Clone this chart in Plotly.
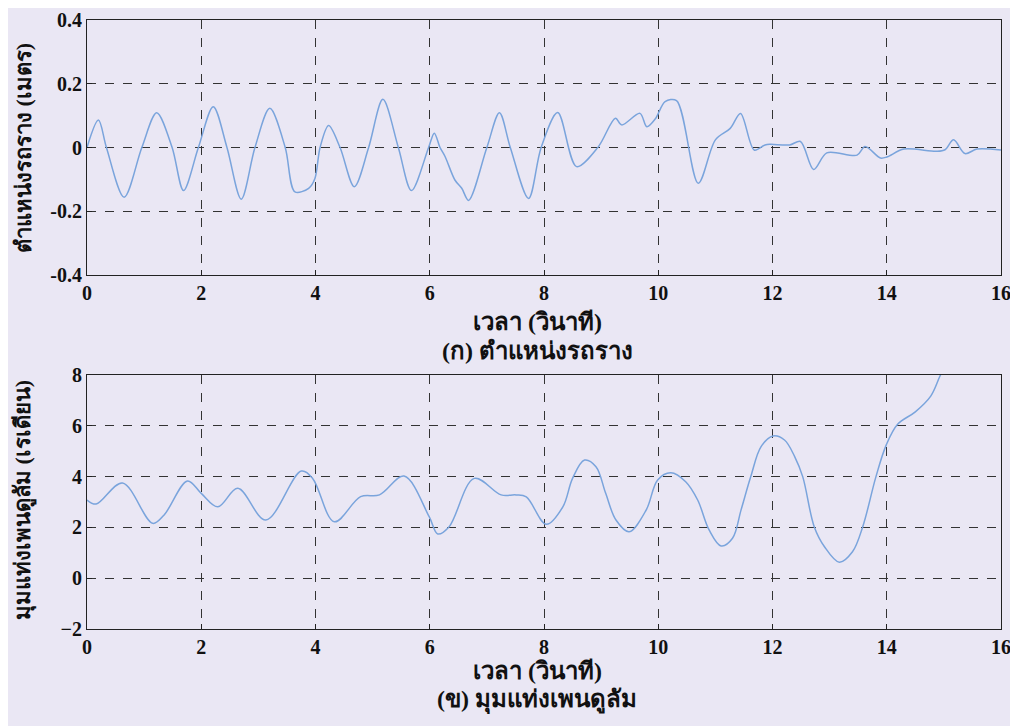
import plotly.graph_objects as go

# Cart position (m) vs time (s)
t_pos = [0.0, 0.2, 0.34, 0.65, 0.96, 1.22, 1.49, 1.69, 1.95, 2.21, 2.45, 2.70, 2.94, 3.20, 3.47,
         3.64, 3.88, 3.99, 4.08, 4.23, 4.43, 4.68, 4.93, 5.18, 5.45, 5.68, 5.98, 6.08, 6.18, 6.27,
         6.44, 6.56, 6.68, 7.0, 7.22, 7.41, 7.73, 7.95, 8.24, 8.57, 8.95, 9.25, 9.36, 9.68, 9.80,
         9.95, 10.12, 10.32, 10.70, 11.0, 11.26, 11.44, 11.68, 11.87, 11.96, 12.30, 12.49, 12.72,
         12.95, 13.48, 13.62, 13.89, 14.0, 14.3, 14.87, 15.02, 15.17, 15.37, 15.58, 16.0]
pos = [0.0, 0.086, 0.0, -0.156, 0.0, 0.109, 0.0, -0.135, 0.0, 0.128, 0.0, -0.162, 0.0, 0.123, 0.0,
       -0.139, -0.128, -0.097, 0.0, 0.069, 0.0, -0.123, 0.0, 0.151, 0.0, -0.135, 0.0, 0.045, 0.0, -0.029,
       -0.102, -0.128, -0.166, 0.0, 0.109, 0.0, -0.160, 0.0, 0.110, -0.060, 0.002, 0.092, 0.071, 0.107, 0.065,
       0.090, 0.144, 0.147, -0.112, 0.024, 0.060, 0.107, -0.008, 0.008, 0.010, 0.008, 0.019, -0.069,
       -0.017, -0.024, 0.003, -0.033, -0.030, -0.005, -0.012, -0.007, 0.024, -0.019, -0.005, -0.008]

# Pendulum angle (rad) vs time (s)
t_ang = [0.0, 0.16, 0.62, 1.15, 1.35, 1.76, 2.0, 2.29, 2.64, 3.13, 3.75, 3.95, 4.33, 4.79, 5.12,
         5.55, 5.99, 6.14, 6.34, 6.78, 7.25, 7.51, 7.69, 8.04, 8.33, 8.50, 8.71, 8.91, 9.08, 9.26,
         9.49, 9.79, 9.99, 10.22, 10.48, 10.69, 10.89, 11.10, 11.30, 11.45, 11.62, 11.80, 12.01,
         12.21, 12.39, 12.53, 12.73, 12.91, 13.17, 13.40, 13.58, 13.81, 13.99, 14.19, 14.50, 14.77,
         14.93, 15.05]
ang = [3.08, 2.92, 3.75, 2.16, 2.49, 3.83, 3.34, 2.81, 3.54, 2.29, 4.22, 3.93, 2.22, 3.21, 3.28,
       4.02, 2.42, 1.74, 2.03, 3.93, 3.28, 3.28, 3.20, 2.12, 2.81, 3.93, 4.65, 4.39, 3.34, 2.29,
       1.83, 2.69, 3.87, 4.15, 3.80, 3.08, 1.90, 1.27, 1.57, 2.69, 4.00, 5.18, 5.60,
       5.44, 4.78, 3.99, 2.03, 1.24, 0.63, 1.04, 2.03, 3.99, 5.24, 6.06, 6.55, 7.17,
       7.95, 8.5]

x_ticks = [0, 2, 4, 6, 8, 10, 12, 14, 16]
pos_ticks = [-0.4, -0.2, 0, 0.2, 0.4]
pos_tick_text = ["-0.4", "-0.2", "0", "0.2", "0.4"]
ang_ticks = [-2, 0, 2, 4, 6, 8]

xlabel = "เวลา (วินาที)"
title_a = "(ก) ตำแหน่งรถราง"
title_b = "(ข) มุมแท่งเพนดูลัม"
ylabel_a = "ตำแหน่งรถราง (เมตร)"
ylabel_b = "มุมแท่งเพนดูลัม (เรเดียน)"

BG = "#EAE7F4"
LINE = "#7AA4DC"
SERIF = "Times New Roman, Liberation Serif, DejaVu Serif, serif"
TICKFONT = dict(family=SERIF, size=20, color="#111111", weight="bold")
THAIFONT = dict(family=SERIF, size=24, color="#111111", weight="bold")
THAIFONT_Y = dict(family=SERIF, size=22, color="#111111", weight="bold")

# page is drawn with an 8px body margin: work in shifted pixel coordinates
OFF = 8
W, H = 1018 - OFF, 726 - OFF
L, R, T, B = 87 - OFF, W - (1001 - OFF), 20 - OFF, H - (629 - OFF)
PW, PH = W - L - R, H - T - B


def px_x(X):
    return (X - OFF - L) / PW


def px_y(Y):
    return (H - B - (Y - OFF)) / PH


fig = go.Figure()
fig.add_trace(go.Scatter(x=t_pos, y=pos, mode="lines", xaxis="x", yaxis="y",
                         line=dict(color=LINE, width=1.5, shape="spline", smoothing=0.9),
                         showlegend=False))
fig.add_trace(go.Scatter(x=t_ang, y=ang, mode="lines", xaxis="x2", yaxis="y2",
                         line=dict(color=LINE, width=1.5, shape="spline", smoothing=1.0),
                         showlegend=False))

axis_common = dict(showline=True, linecolor="#222222", linewidth=1.2, mirror=True,
                   showgrid=True, gridcolor="#333333", gridwidth=1, griddash="dash",
                   zeroline=False, ticks="inside", ticklen=5, tickcolor="#222222",
                   tickfont=TICKFONT)

fig.update_layout(
    width=W, height=H,
    margin=dict(l=L, r=R, t=T, b=B, autoexpand=False),
    paper_bgcolor=BG, plot_bgcolor=BG,
    xaxis=dict(domain=[0, 1], anchor="y", range=[0, 16], tickvals=x_ticks, **axis_common),
    yaxis=dict(domain=[px_y(275), 1], anchor="x", range=[-0.4, 0.4], tickvals=pos_ticks,
               ticktext=pos_tick_text, **axis_common),
    xaxis2=dict(domain=[0, 1], anchor="y2", range=[0, 16], tickvals=x_ticks, **axis_common),
    yaxis2=dict(domain=[0, px_y(375)], anchor="x2", range=[-2, 8], tickvals=ang_ticks, **axis_common),
)

annotations = []
for txt, xp, yp in [(xlabel, 537, 322), (title_a, 537, 351), (xlabel, 537, 671), (title_b, 537, 700)]:
    annotations.append(dict(text=txt, xref="paper", yref="paper",
                            x=px_x(xp), y=px_y(yp),
                            xanchor="center", yanchor="middle", showarrow=False, font=THAIFONT))
for txt, xp, yp in [(ylabel_a, 23, 148), (ylabel_b, 23, 500)]:
    annotations.append(dict(text=txt, xref="paper", yref="paper",
                            x=px_x(xp), y=px_y(yp), textangle=-90,
                            xanchor="center", yanchor="middle", showarrow=False, font=THAIFONT_Y))
fig.update_layout(annotations=annotations)

fig.write_html("out.html")
